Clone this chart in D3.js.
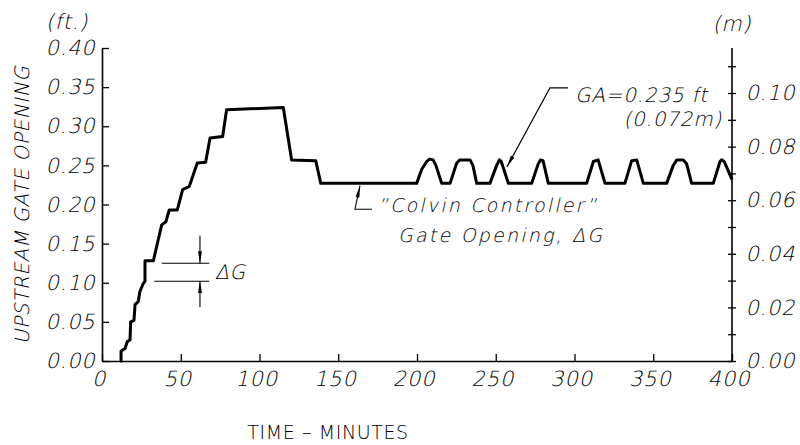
<!DOCTYPE html>
<html>
<head>
<meta charset="utf-8">
<script src="https://cdn.jsdelivr.net/npm/d3@7/dist/d3.min.js"></script>
<style>
  html, body { margin: 0; padding: 0; background: #fff; }
  svg { display: block; }
  text { font-family: "DejaVu Sans", sans-serif; font-weight: 200; fill: #000; }
</style>
</head>
<body>
<svg id="chart" width="800" height="445"></svg>
<script>
// ---- data ----
const timeMin = [12.1, 12.1, 14.6, 16.1, 17.8, 18.2, 20.3, 21.0, 23.0, 24.1, 26.2, 27.3, 27.3, 32.6,
  37.9, 40.6, 42.7, 47.8, 51.2, 55.4, 60.5, 65.8, 68.6, 76.6, 79.1, 115.1, 120.4, 135.7, 138.9, 199.8,
  203.0, 206.2, 208.0, 210.2, 212.0, 215.7, 221.0,
  225.2, 227.3, 233.7, 235.5, 237.9, 246.3,
  250.6, 252.3, 253.5, 258.0, 272.8,
  277.0, 278.5, 280.0, 283.4, 307.7,
  312.0, 315.0, 319.4, 332.0,
  336.3, 339.5, 343.7, 358.5,
  362.7, 365.0, 369.0, 371.2, 374.4, 388.1,
  392.4, 393.4, 395.0, 399.8];
const gateFt = [0, 0.0128, 0.016, 0.025, 0.027, 0.050, 0.052, 0.072, 0.076, 0.089, 0.099, 0.102, 0.128, 0.128,
  0.174, 0.178, 0.193, 0.193, 0.219, 0.223, 0.253, 0.254, 0.285, 0.287, 0.321, 0.324, 0.257, 0.256, 0.227, 0.227,
  0.245, 0.255, 0.258, 0.257, 0.250, 0.227, 0.227,
  0.253, 0.257, 0.257, 0.250, 0.227, 0.227,
  0.250, 0.257, 0.255, 0.227, 0.227,
  0.252, 0.257, 0.256, 0.227, 0.227,
  0.255, 0.257, 0.227, 0.227,
  0.256, 0.257, 0.227, 0.227,
  0.250, 0.257, 0.257, 0.252, 0.227, 0.227,
  0.255, 0.257, 0.255, 0.233];

const xTicks = [0, 50, 100, 150, 200, 250, 300, 350, 400];
const yTicksFt = [0, 0.05, 0.10, 0.15, 0.20, 0.25, 0.30, 0.35, 0.40];
const yTicksM = [0, 0.01, 0.02, 0.03, 0.04, 0.05, 0.06, 0.07, 0.08, 0.09, 0.10, 0.11];
const yLabelsM = [0, 0.02, 0.04, 0.06, 0.08, 0.10];

// annotation anchors in data units
const deltaGLevels = [0.125, 0.102];

// ---- drawing ----
const svg = d3.select("#chart");
const x = d3.scaleLinear().domain([0, 400]).range([102, 732]);
const y = d3.scaleLinear().domain([0, 0.40]).range([361, 48]);
const yM = d3.scaleLinear().domain([0, 0.1168]).range([361, 48]);

const SKEW = -13;
// light, slanted "CAD" lettering: move x/y into a transform and skew
function slant(sel) {
  sel.each(function () {
    const t = d3.select(this);
    const X = +t.attr("x") || 0, Y = +t.attr("y") || 0;
    t.attr("x", 0).attr("y", 0).attr("transform", `translate(${X},${Y}) skewX(${SKEW})`);
  });
}
const tickStyle = sel => sel.attr("font-size", 21).attr("font-family", "DejaVu Sans")
  .attr("font-weight", 200).attr("fill", "#000").attr("letter-spacing", 0.8).call(slant);

// left axis
const gL = svg.append("g").attr("transform", `translate(${x(0)},0)`)
  .call(d3.axisLeft(y).tickValues(yTicksFt).tickFormat(d3.format(".2f"))
    .tickSizeInner(-7).tickSizeOuter(0).tickPadding(5));
gL.selectAll("text").call(tickStyle);
// bottom axis
const gB = svg.append("g").attr("transform", `translate(0,${y(0)})`)
  .call(d3.axisBottom(x).tickValues(xTicks).tickFormat(d3.format("d"))
    .tickSizeInner(-7).tickSizeOuter(0).tickPadding(10));
gB.selectAll("text").call(tickStyle);
// right axis
const gR = svg.append("g").attr("transform", `translate(${x(400)},0)`)
  .call(d3.axisRight(yM).tickValues(yTicksM)
    .tickFormat(d => yLabelsM.some(v => Math.abs(v - d) < 1e-9) ? d3.format(".2f")(d) : "")
    .tickSizeInner(4).tickSizeOuter(0).tickPadding(11));
gR.selectAll(".tick line").attr("x1", -4);
gR.selectAll("text").call(tickStyle);
gR.select(".domain").attr("d", `M0,${yM(0)}V${y(0.40)}`);

svg.selectAll(".domain").attr("stroke", "#000").attr("stroke-width", 1.6);
svg.selectAll(".tick line").attr("stroke", "#000").attr("stroke-width", 1.3);

function label(xp, yp, txt, size, opts = {}) {
  const t = svg.append("text").attr("x", xp).attr("y", yp)
    .attr("font-size", size).attr("letter-spacing", opts.ls ?? 0.8)
    .attr("text-anchor", opts.anchor || "start").text(txt);
  if (opts.slant !== false) t.call(slant);
  return t;
}

// units
label(67, 29, "(ft.)", 21, { anchor: "middle" });
label(732, 31, "(m)", 21, { anchor: "middle" });

// axis titles
svg.append("text").attr("transform", `translate(29,205) rotate(-90) skewX(${SKEW})`)
  .attr("text-anchor", "middle").attr("font-size", 20)
  .attr("letter-spacing", 0.6).text("UPSTREAM GATE OPENING");
label(328, 439, "TIME \u2013 MINUTES", 19, { anchor: "middle", slant: false, ls: 0.6 });

// arrow marker
const defs = svg.append("defs");
defs.append("marker").attr("id", "arr").attr("viewBox", "0 0 12 4")
  .attr("refX", 12).attr("refY", 2).attr("markerWidth", 12).attr("markerHeight", 4)
  .attr("markerUnits", "userSpaceOnUse").attr("orient", "auto")
  .append("path").attr("d", "M0,0L12,2L0,4Z").attr("fill", "#000");

// data line
const pts = timeMin.map((t, i) => [t, gateFt[i]]);
svg.append("path").datum(pts)
  .attr("d", d3.line().x(d => x(d[0])).y(d => y(d[1])))
  .attr("fill", "none").attr("stroke", "#000").attr("stroke-width", 3)
  .attr("stroke-linejoin", "round").attr("stroke-linecap", "round");

// ---- annotations ----
const thin = sel => sel.attr("stroke", "#000").attr("stroke-width", 1.1).attr("fill", "none");
// Delta G
svg.append("line").call(thin).attr("x1", x(37.9)).attr("x2", x(68.1))
  .attr("y1", y(deltaGLevels[0])).attr("y2", y(deltaGLevels[0]));
svg.append("line").call(thin).attr("x1", x(33.2)).attr("x2", x(68.1))
  .attr("y1", y(deltaGLevels[1])).attr("y2", y(deltaGLevels[1]));
svg.append("line").call(thin).attr("x1", x(62.2)).attr("x2", x(62.2))
  .attr("y1", y(0.160)).attr("y2", y(deltaGLevels[0])).attr("marker-end", "url(#arr)");
svg.append("line").call(thin).attr("x1", x(62.2)).attr("x2", x(62.2))
  .attr("y1", y(0.069)).attr("y2", y(deltaGLevels[1])).attr("marker-end", "url(#arr)");
label(x(71.7), y(0.114) + 7, "\u0394G", 20);

// GA annotation
svg.append("path").call(thin)
  .attr("d", `M${x(295.9)},${y(0.349)}H${x(284.4)}L${x(257.1)},${y(0.248)}`)
  .attr("marker-end", "url(#arr)");
label(x(300.3), y(0.34) + 7, "GA=0.235 ft", 20);
label(x(393.7), y(0.309) + 7, "(0.072m)", 20, { anchor: "end" });

// Colvin annotation
svg.append("path").call(thin)
  .attr("d", `M${x(171.4)},${y(0.194)}H${x(160.6)}L${x(163.8)},${y(0.224)}`)
  .attr("marker-end", "url(#arr)");
label(x(175.2), y(0.1994) + 7, "\u201DColvin Controller\u201D", 19, { ls: 2.2 });
label(x(188), y(0.161) + 7, "Gate Opening, \u0394G", 19, { ls: 2.2 });
</script>
</body>
</html>
